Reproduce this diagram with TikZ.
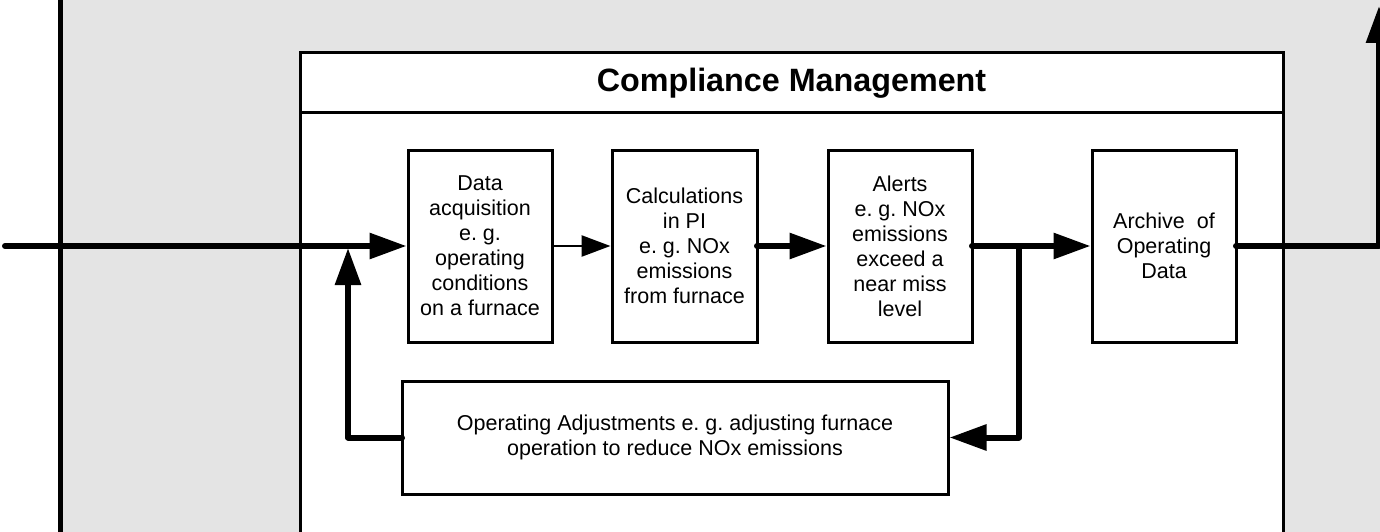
\documentclass[tikz,border=0pt]{standalone}
\usepackage{fontspec}
\setmainfont{Liberation Sans}
\usetikzlibrary{arrows.meta}
\definecolor{panelgray}{RGB}{228,228,228}
\frenchspacing

\begin{document}
\begin{tikzpicture}[x=1pt,y=-1pt,
  blockbox/.style={draw, line width=3pt, fill=white, inner sep=0pt, outer sep=0pt,
    minimum width=144pt, minimum height=192pt, align=center,
    font=\fontsize{21.5}{25}\selectfont},
  heavyflow/.style={line width=6pt, line join=round, line cap=round,
    -{Triangle[length=37pt,width=25pt]}},
  lightflow/.style={line width=2.5pt, -{Triangle[length=29pt,width=21pt]}},
]
\useasboundingbox (0,0) rectangle (1380,532);
\begin{scope}
\clip (0,0) rectangle (1380,532);

% outer panel
\fill[panelgray] (60.5,0) rectangle (1385,540);
\draw[line width=5.5pt] (60.5,-5) -- (60.5,540);

% compliance management frame
\draw[line width=3pt, fill=white] (300,53) rectangle (1283,560);
\node[draw, line width=3pt, fill=white, inner sep=0pt,
      minimum width=983pt, minimum height=60pt,
      font=\bfseries\fontsize{32.3}{36}\selectfont] (title) at (791.5,83) {Compliance Management};

% process blocks
\node[blockbox] (acq)  at (480,246)   {Data\\acquisition\\e. g.\\operating\\conditions\\on a furnace};
\node[blockbox, minimum width=145pt] (calc) at (684.5,246) {Calculations\\in PI\\e. g. NOx\\emissions\\from furnace};
\node[blockbox] (alert) at (900,246)  {Alerts\\e. g. NOx\\emissions\\exceed a\\near miss\\level};
\node[blockbox] (arch) at (1164,246)  {Archive\ \ of\\Operating\\Data};
\node[blockbox, minimum width=546pt, minimum height=113pt] (adj) at (675,437.5)
  {Operating Adjustments e. g. adjusting furnace\\operation to reduce NOx emissions};

% junctions and free ends
\coordinate (in)    at (5,246);
\coordinate (merge) at (348,248);
\coordinate (split) at (1019,246);
\coordinate (out)   at (1379,6);

% connectors
\draw[heavyflow] (in) -- ([xshift=-1.5pt]acq.west);
\draw[lightflow] (acq.east) -- ([xshift=-1.5pt]calc.west);
\draw[heavyflow] (calc.east) -- ([xshift=-1.5pt]alert.west);
\draw[heavyflow] (alert.east) -- ([xshift=-1.5pt]arch.west);
\draw[heavyflow] (split) |- ([xshift=1.5pt]adj.east);
\draw[heavyflow] (adj.west) -| (merge);
\draw[heavyflow] (arch.east) -| (out);
\end{scope}
\end{tikzpicture}
\end{document}
